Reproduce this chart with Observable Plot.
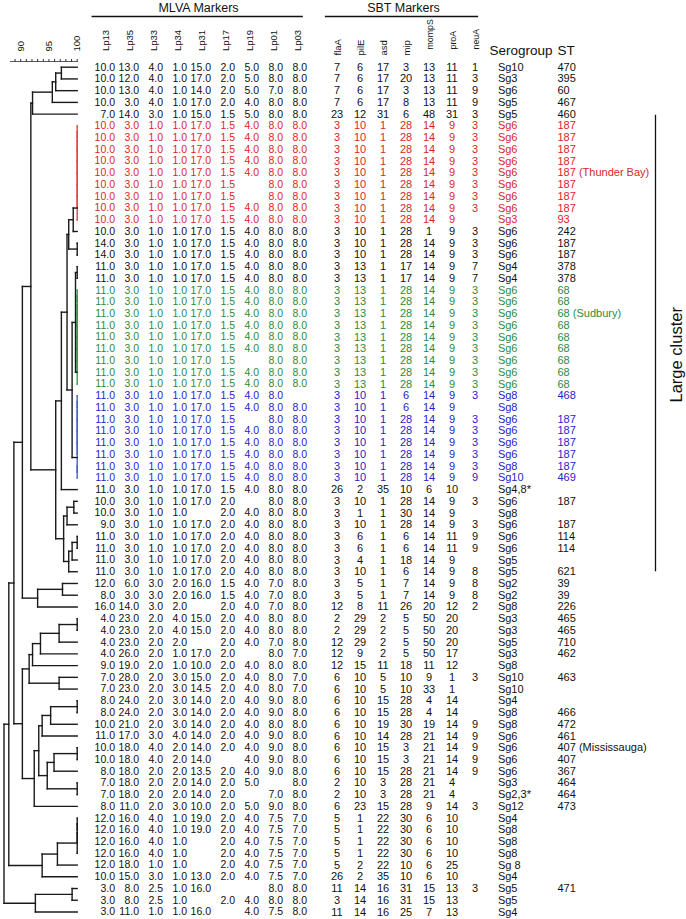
<!DOCTYPE html>
<html><head><meta charset="utf-8">
<script src="https://cdn.jsdelivr.net/npm/d3@7"></script>
<script src="https://cdn.jsdelivr.net/npm/@observablehq/plot@0.6"></script>
<style>
body{margin:0;background:#fff;}
#chart{position:relative;width:686px;height:919px;overflow:hidden;background:#fff;}
#chart > svg{position:absolute;left:0;top:0;}
</style></head><body><div id="chart"></div>
<script>
// ---------------- data ----------------
const mlvaMarkers = ["Lp13","Lp35","Lp33","Lp34","Lp31","Lp17","Lp19","Lp01","Lp03"];
const sbtMarkers = ["flaA","pilE","asd","mip","mompS","proA","neuA"];
const similarityTicks = [89,90,91,92,93,94,95,96,97,98,99,100];
const similarityLabels = [90,95,100];

// "-" = no value
const mlvaProfiles = [
"10.0 13.0 4.0 1.0 15.0 2.0 5.0 8.0 8.0",
"10.0 12.0 4.0 1.0 17.0 2.0 5.0 8.0 8.0",
"10.0 13.0 4.0 1.0 14.0 2.0 5.0 7.0 8.0",
"10.0 3.0 4.0 1.0 17.0 2.0 4.0 8.0 8.0",
"7.0 14.0 3.0 1.0 15.0 1.5 5.0 8.0 8.0",
"10.0 3.0 1.0 1.0 17.0 1.5 4.0 8.0 8.0",
"10.0 3.0 1.0 1.0 17.0 1.5 4.0 8.0 8.0",
"10.0 3.0 1.0 1.0 17.0 1.5 4.0 8.0 8.0",
"10.0 3.0 1.0 1.0 17.0 1.5 4.0 8.0 8.0",
"10.0 3.0 1.0 1.0 17.0 1.5 4.0 8.0 8.0",
"10.0 3.0 1.0 1.0 17.0 1.5 - 8.0 8.0",
"10.0 3.0 1.0 1.0 17.0 1.5 - 8.0 8.0",
"10.0 3.0 1.0 1.0 17.0 1.5 4.0 8.0 8.0",
"10.0 3.0 1.0 1.0 17.0 1.5 4.0 8.0 8.0",
"10.0 3.0 1.0 1.0 17.0 1.5 4.0 8.0 8.0",
"14.0 3.0 1.0 1.0 17.0 1.5 4.0 8.0 8.0",
"14.0 3.0 1.0 1.0 17.0 1.5 4.0 8.0 8.0",
"11.0 3.0 1.0 1.0 17.0 1.5 4.0 8.0 8.0",
"11.0 3.0 1.0 1.0 17.0 1.5 4.0 8.0 8.0",
"11.0 3.0 1.0 1.0 17.0 1.5 4.0 8.0 8.0",
"11.0 3.0 1.0 1.0 17.0 1.5 4.0 8.0 8.0",
"11.0 3.0 1.0 1.0 17.0 1.5 4.0 8.0 8.0",
"11.0 3.0 1.0 1.0 17.0 1.5 4.0 8.0 8.0",
"11.0 3.0 1.0 1.0 17.0 1.5 4.0 8.0 8.0",
"11.0 3.0 1.0 1.0 17.0 1.5 4.0 8.0 8.0",
"11.0 3.0 1.0 1.0 17.0 1.5 - 8.0 8.0",
"11.0 3.0 1.0 1.0 17.0 1.5 4.0 8.0 8.0",
"11.0 3.0 1.0 1.0 17.0 1.5 4.0 8.0 8.0",
"11.0 3.0 1.0 1.0 17.0 1.5 4.0 8.0 -",
"11.0 3.0 1.0 1.0 17.0 1.5 4.0 8.0 8.0",
"11.0 3.0 1.0 1.0 17.0 1.5 - 8.0 8.0",
"11.0 3.0 1.0 1.0 17.0 1.5 4.0 8.0 8.0",
"11.0 3.0 1.0 1.0 17.0 1.5 4.0 8.0 8.0",
"11.0 3.0 1.0 1.0 17.0 1.5 4.0 8.0 8.0",
"11.0 3.0 1.0 1.0 17.0 1.5 4.0 8.0 8.0",
"11.0 3.0 1.0 1.0 17.0 1.5 4.0 8.0 8.0",
"11.0 3.0 1.0 1.0 17.0 1.5 4.0 8.0 8.0",
"10.0 3.0 1.0 1.0 17.0 2.0 - 8.0 8.0",
"10.0 3.0 1.0 1.0 - 2.0 4.0 8.0 8.0",
"9.0 3.0 1.0 1.0 17.0 2.0 4.0 8.0 8.0",
"11.0 3.0 1.0 1.0 17.0 2.0 4.0 8.0 8.0",
"11.0 3.0 1.0 1.0 17.0 2.0 4.0 8.0 8.0",
"11.0 3.0 1.0 1.0 17.0 2.0 4.0 8.0 8.0",
"11.0 3.0 1.0 1.0 17.0 2.0 4.0 8.0 8.0",
"12.0 6.0 3.0 2.0 16.0 1.5 4.0 7.0 8.0",
"8.0 3.0 3.0 2.0 16.0 1.5 4.0 7.0 8.0",
"16.0 14.0 3.0 2.0 - 2.0 4.0 7.0 8.0",
"4.0 23.0 2.0 4.0 15.0 2.0 4.0 8.0 8.0",
"4.0 23.0 2.0 4.0 15.0 2.0 4.0 8.0 8.0",
"4.0 23.0 2.0 2.0 - 2.0 4.0 7.0 8.0",
"4.0 26.0 2.0 1.0 17.0 2.0 - 8.0 7.0",
"9.0 19.0 2.0 1.0 10.0 2.0 4.0 8.0 8.0",
"7.0 28.0 2.0 3.0 15.0 2.0 4.0 8.0 7.0",
"7.0 23.0 2.0 3.0 14.5 2.0 4.0 8.0 7.0",
"8.0 24.0 2.0 3.0 14.0 2.0 4.0 9.0 8.0",
"8.0 24.0 2.0 3.0 14.0 2.0 4.0 9.0 8.0",
"10.0 21.0 2.0 3.0 14.0 2.0 4.0 8.0 8.0",
"11.0 17.0 3.0 4.0 14.0 2.0 4.0 9.0 8.0",
"10.0 18.0 4.0 2.0 14.0 2.0 4.0 9.0 8.0",
"10.0 18.0 4.0 2.0 14.0 - 4.0 9.0 8.0",
"8.0 18.0 2.0 2.0 13.5 2.0 4.0 9.0 8.0",
"7.0 18.0 2.0 2.0 14.0 2.0 5.0 - 8.0",
"7.0 18.0 2.0 2.0 14.0 2.0 - 7.0 8.0",
"8.0 11.0 2.0 3.0 10.0 2.0 5.0 9.0 8.0",
"12.0 16.0 4.0 1.0 19.0 2.0 4.0 7.5 7.0",
"12.0 16.0 4.0 1.0 19.0 2.0 4.0 7.5 7.0",
"12.0 16.0 4.0 1.0 - 2.0 4.0 7.5 7.0",
"12.0 16.0 4.0 1.0 - 2.0 4.0 7.5 7.0",
"12.0 18.0 1.0 1.0 - 2.0 4.0 7.5 7.0",
"10.0 15.0 3.0 1.0 13.0 2.0 4.0 7.5 7.0",
"3.0 8.0 2.5 1.0 16.0 - - 8.0 8.0",
"3.0 8.0 2.5 1.0 - 2.0 4.0 8.0 8.0",
"3.0 11.0 1.0 1.0 16.0 - 4.0 7.5 8.0"
];

const sbtProfiles = [
"7 6 17 3 13 11 1",
"7 6 17 20 13 11 3",
"7 6 17 3 13 11 9",
"7 6 17 8 13 11 9",
"23 12 31 6 48 31 3",
"3 10 1 28 14 9 3",
"3 10 1 28 14 9 3",
"3 10 1 28 14 9 3",
"3 10 1 28 14 9 3",
"3 10 1 28 14 9 3",
"3 10 1 28 14 9 3",
"3 10 1 28 14 9 3",
"3 10 1 28 14 9 3",
"3 10 1 28 14 9 -",
"3 10 1 28 1 9 3",
"3 10 1 28 14 9 3",
"3 10 1 28 14 9 3",
"3 13 1 17 14 9 7",
"3 13 1 17 14 9 7",
"3 13 1 28 14 9 3",
"3 13 1 28 14 9 3",
"3 13 1 28 14 9 3",
"3 13 1 28 14 9 3",
"3 13 1 28 14 9 3",
"3 13 1 28 14 9 3",
"3 13 1 28 14 9 3",
"3 13 1 28 14 9 3",
"3 13 1 28 14 9 3",
"3 10 1 6 14 9 3",
"3 10 1 6 14 9 -",
"3 10 1 28 14 9 3",
"3 10 1 28 14 9 3",
"3 10 1 28 14 9 3",
"3 10 1 28 14 9 3",
"3 10 1 28 14 9 3",
"3 10 1 28 14 9 9",
"26 2 35 10 6 10 -",
"3 10 1 28 14 9 3",
"3 1 1 30 14 9 -",
"3 10 1 28 14 9 3",
"3 6 1 6 14 11 9",
"3 6 1 6 14 11 9",
"3 4 1 18 14 9 -",
"3 10 1 6 14 9 8",
"3 5 1 7 14 9 8",
"3 5 1 7 14 9 8",
"12 8 11 26 20 12 2",
"2 29 2 5 50 20 -",
"2 29 2 5 50 20 -",
"12 29 2 5 50 20 -",
"12 9 2 5 50 17 -",
"12 15 11 18 11 12 -",
"6 10 5 10 9 1 3",
"6 10 5 10 33 1 -",
"6 10 15 28 4 14 -",
"6 10 15 28 4 14 -",
"6 10 19 30 19 14 9",
"6 10 14 28 21 14 9",
"6 10 15 3 21 14 9",
"6 10 15 3 21 14 9",
"6 10 15 28 21 14 9",
"2 10 3 28 21 4 -",
"2 10 3 28 21 4 -",
"6 23 15 28 9 14 3",
"5 1 22 30 6 10 -",
"5 1 22 30 6 10 -",
"5 1 22 30 6 10 -",
"5 1 22 30 6 10 -",
"5 2 22 10 6 25 -",
"26 2 35 10 6 10 -",
"11 14 16 31 15 13 3",
"3 14 16 31 15 13 -",
"11 14 16 25 7 13 -"
];

const serogroups = [
"Sg10","Sg3","Sg6","Sg5","Sg5",
"Sg6","Sg6","Sg6","Sg6","Sg6","Sg6","Sg6","Sg6","Sg3",
"Sg6","Sg6","Sg6","Sg4","Sg4",
"Sg6","Sg6","Sg6","Sg6","Sg6","Sg6","Sg6","Sg6","Sg6",
"Sg8","Sg8","Sg6","Sg6","Sg6","Sg6","Sg8","Sg10",
"Sg4,8*","Sg6","Sg8","Sg6","Sg6","Sg6","Sg5","Sg5",
"Sg2","Sg2","Sg8","Sg3","Sg3","Sg5","Sg3","Sg8",
"Sg10","Sg10","Sg4","Sg8","Sg8","Sg6","Sg6","Sg6","Sg6",
"Sg3","Sg2,3*","Sg12","Sg4","Sg8","Sg8","Sg8","Sg 8","Sg4",
"Sg5","Sg5","Sg4"
];

const sequenceTypes = [
"470","395","60","467","460",
"187","187","187","187","187 (Thunder Bay)","187","187","187","93",
"242","187","187","378","378",
"68","68","68 (Sudbury)","68","68","68","68","68","68",
"468","","187","187","187","187","187","469",
"","187","","187","114","114","","621",
"39","39","226","465","465","710","462","",
"463","","","466","472","461","407 (Mississauga)","407","367",
"464","464","473","","","","","","",
"471","",""
];

// outbreak groups highlighted in colour (row numbers, 1-based)
const outbreakGroups = [
  {group: "ThunderBay", first: 6, last: 14},
  {group: "Sudbury", first: 20, last: 28},
  {group: "Sg8_187", first: 29, last: 36}
];
const largeCluster = {first: 6, last: 44};

// UPGMA-style linkage: [node, childA, childB, % similarity]
const linkage = [
  ["a1", 1, 2, 97.2], ["a2", "a1", 3, 96.2], ["a3", "a2", 4, 95.6], ["A", "a3", 5, 92.1],
  ["r1", 6, 7, 100], ["r2", "r1", 8, 100], ["r3", "r2", 9, 100], ["r4", "r3", 10, 100],
  ["r5", "r4", 11, 100], ["r6", "r5", 12, 100], ["r7", "r6", 13, 100], ["R", "r7", 14, 100],
  ["N1", "R", 15, 99.3],
  ["p16", 16, 17, 100],
  ["N2", "N1", "p16", 98.5],
  ["p18", 18, 19, 100],
  ["g1", 20, 21, 100], ["g2", "g1", 22, 100], ["g3", "g2", 23, 100], ["g4", "g3", 24, 100],
  ["g5", "g4", 25, 100], ["g6", "g5", 26, 100], ["g7", "g6", 27, 100], ["G", "g7", 28, 100],
  ["GG", "p18", "G", 99.7],
  ["b1", 29, 30, 100], ["b2", "b1", 31, 100], ["b3", "b2", 32, 100], ["b4", "b3", 33, 100],
  ["b5", "b4", 34, 100], ["b6", 35, 36, 100], ["B", "b5", "b6", 100],
  ["N3", "GG", "B", 99.1],
  ["LC", "N2", "N3", 98.2],
  ["Z", "LC", 37, 97.2],
  ["c1", 38, 39, 99.4], ["c2", "c1", 40, 98.2],
  ["c3", 41, 42, 100], ["c4", "c3", 43, 99.1], ["c5", "c4", 44, 98.5],
  ["C", "c2", "c5", 97.6],
  ["Y", "Z", "C", 96.2],
  ["X", "A", "Y", 91.8],
  ["d1", 45, 46, 97.4], ["D", "d1", 47, 93.0],
  ["W", "X", "D", 90.3],
  ["e1", 48, 49, 100], ["e2", "e1", 50, 96.8], ["e3", "e2", 51, 93.5], ["e4", "e3", 52, 92.1],
  ["e5", 53, 54, 96.8],
  ["P", "e4", "e5", 91.5],
  ["k1", 55, 56, 100], ["k2", "k1", 57, 95.3], ["k3", "k2", 58, 93.8],
  ["m1", 59, 60, 100], ["m2", "m1", 61, 95.9], ["m3", 62, 63, 100], ["m4", "m2", "m3", 94.7],
  ["m5", "k3", "m4", 93.2],
  ["Q", "m5", 64, 92.4],
  ["S", "P", "Q", 90.3],
  ["V", "W", "S", 88.8],
  ["h1", 65, 66, 100], ["h2", "h1", 67, 100], ["h3", "h2", 68, 100], ["h4", "h3", 69, 96.5], ["H", "h4", 70, 93.8],
  ["T", "V", "H", 87.9],
  ["i1", 71, 72, 99.1], ["I", "i1", 73, 92.6],
  ["root", "T", "I", 87.05]
];

// ---------------- styles ----------------
const FONT = "'Liberation Sans', Arial, Helvetica, sans-serif";
const textColors = {ThunderBay: "#d8262b", Sudbury: "#2c8a3c", Sg8_187: "#2424c8"};
const lineColors = {ThunderBay: "#e0474c", Sudbury: "#3a9a4a", Sg8_187: "#4a63c8"};
const INK = "#111";
const W = 686, H = 919;
const yScale = {domain: [1, mlvaProfiles.length], range: [66.7, 911.5], axis: null};
const baseStyle = {background: "transparent", overflow: "visible", fontFamily: FONT, color: INK, maxWidth: "none"};

// ---------------- derived ----------------
const nRows = mlvaProfiles.length;
const groupOf = r => { const g = outbreakGroups.find(g => r >= g.first && r <= g.last); return g ? g.group : null; };
const rows = d3.range(1, nRows + 1).map(r => ({
  row: r, group: groupOf(r), serogroup: serogroups[r - 1], st: sequenceTypes[r - 1]
}));
const tc = d => d.group ? textColors[d.group] : INK;
const mlvaCells = mlvaProfiles.flatMap((p, i) => p.split(" ").map((v, j) => ({row: i + 1, marker: mlvaMarkers[j], value: v === "-" ? "" : v, group: groupOf(i + 1)})));
const sbtCells = sbtProfiles.flatMap((p, i) => p.split(" ").map((v, j) => ({row: i + 1, marker: sbtMarkers[j], value: v === "-" ? "" : v, group: groupOf(i + 1)})));

// dendrogram geometry from linkage
const nodes = new Map();
for (let r = 1; r <= nRows; r++) nodes.set(r, {s: 100, y: r, group: groupOf(r)});
const segments = [];
for (const [name, a, b, s] of linkage) {
  const A = nodes.get(a), B = nodes.get(b);
  const group = A.group && A.group === B.group ? A.group : null;
  nodes.set(name, {s, y: (A.y + B.y) / 2, group});
  segments.push({x1: s, y1: A.y, x2: s, y2: B.y, group});
  segments.push({x1: s, y1: A.y, x2: A.s, y2: A.y, group});
  segments.push({x1: s, y1: B.y, x2: B.s, y2: B.y, group});
}

const chart = document.getElementById("chart");

// dendrogram + similarity axis
chart.appendChild(Plot.plot({
  width: 80, height: H, marginLeft: 10, marginRight: 3.3, marginTop: 61, marginBottom: 0,
  style: baseStyle,
  x: {domain: [88.2, 100], axis: null},
  y: yScale,
  color: {type: "identity"},
  marks: [
    Plot.frame({anchor: "top", stroke: "#333", strokeWidth: 0.8}),
    Plot.axisX({anchor: "top", ticks: similarityTicks, tickSize: 3, tickPadding: 7, tickRotate: -90,
      tickFormat: d => similarityLabels.includes(d) ? String(d) : "", fontSize: 9.5, label: null, stroke: "#333"}),
    Plot.link(segments, {x1: "x1", y1: "y1", x2: "x2", y2: "y2",
      stroke: d => d.group ? lineColors[d.group] : "#1a1a1a", strokeWidth: 1.4, strokeLinecap: "square"})
  ]
}));

// MLVA table
chart.appendChild(Plot.plot({
  width: W, height: H, marginLeft: 91.7, marginRight: W - 301.7, marginTop: 16, marginBottom: 0,
  style: baseStyle,
  x: {type: "point", domain: mlvaMarkers, range: [98.8, 297], padding: 0, axis: null},
  y: yScale,
  color: {type: "identity"},
  marks: [
    Plot.frame({anchor: "top", stroke: INK, strokeWidth: 1.3}),
    Plot.text(["MLVA Markers"], {x: () => mlvaMarkers[Math.floor(mlvaMarkers.length / 2)], frameAnchor: "top",
      text: d => d, lineAnchor: "bottom", dy: -4.5, fontSize: 12.5, fill: INK}),
    Plot.text(mlvaMarkers, {x: d => d, frameAnchor: "top", text: d => d, rotate: -90, textAnchor: "start",
      dy: 34.5, fontSize: 9.5, fill: INK}),
    Plot.text(mlvaCells, {x: "marker", y: "row", text: "value", fill: tc, textAnchor: "end", dx: 12.5, fontSize: 10.5})
  ]
}));

// SBT table
const sbtLow = sbtMarkers.slice(0, 4), sbtHigh = sbtMarkers.slice(4);
chart.appendChild(Plot.plot({
  width: W, height: H, marginLeft: 325, marginRight: W - 477, marginTop: 16, marginBottom: 0,
  style: baseStyle,
  x: {type: "point", domain: sbtMarkers, range: [331, 474.5], padding: 0, axis: null},
  y: yScale,
  color: {type: "identity"},
  marks: [
    Plot.frame({anchor: "top", stroke: INK, strokeWidth: 1.3}),
    Plot.text(["SBT Markers"], {x: () => sbtMarkers[Math.floor(sbtMarkers.length / 2)], frameAnchor: "top",
      text: d => d, lineAnchor: "bottom", dy: -4.5, fontSize: 12.5, fill: INK}),
    Plot.text(sbtLow, {x: d => d, frameAnchor: "top", text: d => d, rotate: -90, textAnchor: "start", dy: 39, fontSize: 9.5, fill: INK}),
    Plot.text(sbtHigh, {x: d => d, frameAnchor: "top", text: d => d, rotate: -90, textAnchor: "start", dy: 33, fontSize: 8.8, fill: INK}),
    Plot.text(sbtCells, {x: "marker", y: "row", text: "value", fill: tc, textAnchor: "middle", dx: 2.5, fontSize: 11})
  ]
}));

// Serogroup / ST
const idCols = ["Serogroup", "ST"];
chart.appendChild(Plot.plot({
  width: W, height: H, marginLeft: 488, marginRight: 0, marginTop: 54, marginBottom: 0,
  style: baseStyle,
  x: {type: "point", domain: idCols, range: [488.3, 556.7], padding: 0, axis: null},
  y: yScale,
  color: {type: "identity"},
  marks: [
    Plot.text(idCols, {x: d => d, frameAnchor: "top", text: d => d, textAnchor: "start", lineAnchor: "bottom", fontSize: 13.5, fill: INK}),
    Plot.text(rows, {x: () => "Serogroup", y: "row", text: "serogroup", fill: tc, textAnchor: "start", dx: 8.4, fontSize: 11}),
    Plot.text(rows, {x: () => "ST", y: "row", text: "st", fill: tc, textAnchor: "start", fontSize: 11})
  ]
}));

// Large cluster bracket
chart.appendChild(Plot.plot({
  width: W, height: H, marginLeft: 634, marginRight: 10, marginTop: 0, marginBottom: 0,
  style: baseStyle,
  y: yScale,
  marks: [
    Plot.ruleX([largeCluster], {x: null, y1: d => d.first, y2: d => d.last, insetTop: -10.5, stroke: INK, strokeWidth: 1.3}),
    Plot.text([largeCluster], {y: d => (d.first + d.last) / 2, frameAnchor: "right", text: () => "Large cluster",
      rotate: -90, textAnchor: "middle", lineAnchor: "middle", dy: 6, fontSize: 16.5, fill: INK})
  ]
}));
</script></body></html>
